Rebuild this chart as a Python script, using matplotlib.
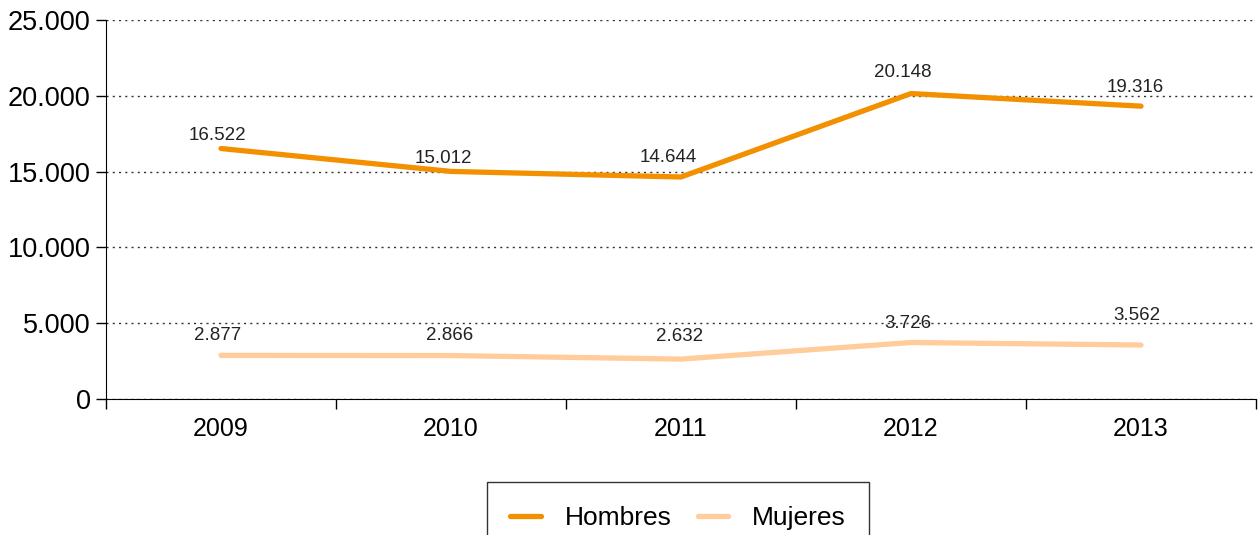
import matplotlib.pyplot as plt
import numpy as np

years = ['2009', '2010', '2011', '2012', '2013']
hombres = [16522, 15012, 14644, 20148, 19316]
mujeres = [2877, 2866, 2632, 3726, 3562]

c_hombres = '#F39000'
c_mujeres = '#FFCC9C'

plt.rcParams['font.family'] = ['Liberation Sans', 'DejaVu Sans']

fig = plt.figure(figsize=(12.6, 5.35), dpi=100)
ax = fig.add_axes([106/1260, 1-399/535, 1150/1260, 379/535])

x = np.arange(len(years))
ax.plot(x, hombres, color=c_hombres, lw=3.8, solid_capstyle='round', label='Hombres')
ax.plot(x, mujeres, color=c_mujeres, lw=3.8, solid_capstyle='round', label='Mujeres')

def fmt(v):
    return f'{v:,}'.replace(',', '.')

# label offsets in pixels (dx, dy) as placed in the original
off_h = [(-4, 9), (-8, 8), (-13, 15), (-8, 17), (-6, 14)]
off_m = [(-3, 15), (-1, 16), (-1, 18), (-3, 15), (-4, 25)]

for xi, v, o in zip(x, hombres, off_h):
    ax.annotate(fmt(v), (xi, v), xytext=o, textcoords='offset pixels',
                ha='center', va='baseline', fontsize=13.5, color='#222222')
for xi, v, o in zip(x, mujeres, off_m):
    ax.annotate(fmt(v), (xi, v), xytext=o, textcoords='offset pixels',
                ha='center', va='baseline', fontsize=13.5, color='#222222')

ax.set_xlim(-0.5, len(years) - 0.5)
ax.set_ylim(0, 25000)
ax.set_yticks(np.arange(0, 25001, 5000))
ax.set_yticklabels([fmt(v) for v in range(0, 25001, 5000)], fontsize=19.5)

ax.set_xticks(np.arange(-0.5, len(years)), minor=False)
ax.set_xticklabels([])
ax.set_xticks(x, minor=True)
ax.set_xticklabels(years, minor=True, fontsize=18)
ax.tick_params(axis='x', which='major', direction='out', length=7, width=1)
ax.tick_params(axis='x', which='minor', length=0, pad=13)
ax.tick_params(axis='y', direction='out', length=7, width=1, pad=4)

ax.yaxis.grid(True, linestyle=(0, (1.5, 3)), color='#333333', lw=1)
ax.set_axisbelow(True)
for s in ['top', 'right']:
    ax.spines[s].set_visible(False)

leg = fig.legend(loc='upper center', bbox_to_anchor=(678/1260, 1-482/535), ncol=2,
                 fontsize=19, frameon=True, fancybox=False, edgecolor='black',
                 handlelength=1.15, handletextpad=0.9, columnspacing=1.0,
                 borderpad=0.9, borderaxespad=0)
leg.get_frame().set_linewidth(1.0)

fig.savefig('out.png', dpi=100)
